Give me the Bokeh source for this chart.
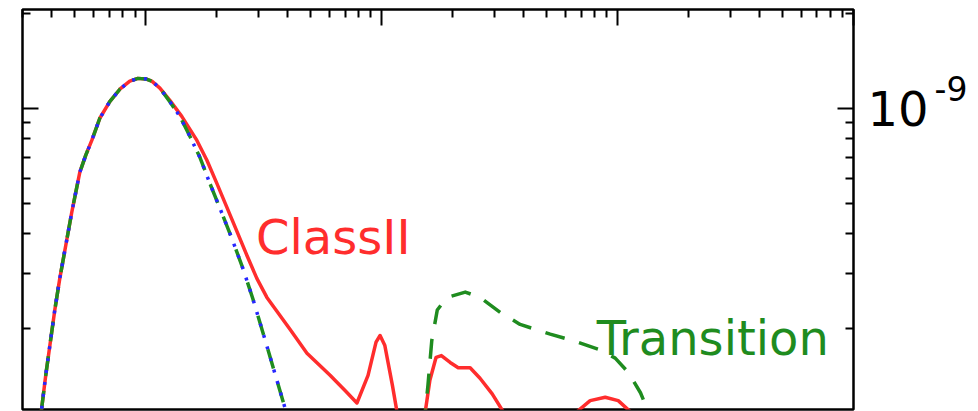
from bokeh.plotting import figure
from bokeh.models import (Range1d, LogAxis, FixedTicker, Label, LogScale,
                          CustomJSTickFormatter)
from bokeh.embed import file_html
from bokeh.resources import INLINE

# ---- data (wavelength in micron, flux) ----
phot_wl = [0.33, 0.362, 0.3764, 0.392, 0.4112, 0.4316, 0.4576, 0.4853, 0.525, 0.5564, 0.590,
           0.638, 0.703, 0.776, 0.855, 0.925, 1.0, 1.06, 1.147, 1.264, 1.394, 1.537, 1.695,
           1.868, 2.06, 2.317, 2.58, 2.84, 3.13, 3.46, 3.81, 4.08, 5.0, 10.0, 100.0, 1000.0]
phot_fl = [6.6e-11, 1.12e-10, 1.42e-10, 1.77e-10, 2.29e-10, 2.88e-10, 3.67e-10, 4.68e-10,
           6.27e-10, 7.1e-10, 7.91e-10, 9.3e-10, 1.05e-9, 1.15e-9, 1.22e-9, 1.245e-9, 1.24e-9,
           1.22e-9, 1.16e-9, 1.05e-9, 9.43e-10, 8.15e-10, 6.99e-10, 5.78e-10, 4.82e-10,
           3.86e-10, 3.1e-10, 2.49e-10, 1.95e-10, 1.51e-10, 1.18e-10, 9.9e-11, 6.0e-11,
           1.2e-11, 1.2e-13, 1.2e-15]

class2_wl = [0.33, 0.362, 0.3764, 0.392, 0.4112, 0.4316, 0.4576, 0.4853, 0.525, 0.5564, 0.590,
             0.638, 0.703, 0.776, 0.855, 0.925, 1.0, 1.06, 1.147, 1.264, 1.42, 1.646, 1.815,
             2.0, 2.317, 2.683, 2.958, 3.26, 3.594, 4.083, 4.82, 6.04, 6.99, 7.85, 8.75, 9.46,
             9.84, 10.3, 11.1, 11.6, 12.6, 14.3, 15.3, 16.0, 17.0, 17.9, 19.5, 21.1, 23.7, 26.1,
             29.4, 32.7, 38.6, 57.1, 67.4, 76.5, 88.6, 100.6, 113.0, 137.0, 1000.0]
class2_fl = [6.6e-11, 1.12e-10, 1.42e-10, 1.77e-10, 2.29e-10, 2.88e-10, 3.67e-10, 4.68e-10,
             6.27e-10, 7.1e-10, 7.91e-10, 9.3e-10, 1.05e-9, 1.15e-9, 1.22e-9, 1.245e-9, 1.24e-9,
             1.22e-9, 1.16e-9, 1.06e-9, 9.43e-10, 7.91e-10, 6.84e-10, 5.78e-10, 4.44e-10,
             3.41e-10, 2.88e-10, 2.51e-10, 2.27e-10, 1.99e-10, 1.67e-10, 1.42e-10, 1.27e-10,
             1.16e-10, 1.42e-10, 1.81e-10, 1.90e-10, 1.77e-10, 1.32e-10, 1.09e-10, 7.6e-11,
             7.6e-11, 1.09e-10, 1.37e-10, 1.62e-10, 1.64e-10, 1.56e-10, 1.50e-10, 1.50e-10,
             1.39e-10, 1.24e-10, 1.09e-10, 7.1e-11, 7.1e-11, 1.09e-10, 1.18e-10, 1.21e-10,
             1.18e-10, 1.09e-10, 6.6e-11, 1e-12]

trans_wl = [0.33, 0.362, 0.3764, 0.392, 0.4112, 0.4316, 0.4576, 0.4853, 0.525, 0.5564, 0.590,
            0.638, 0.703, 0.776, 0.855, 0.925, 1.0, 1.06, 1.147, 1.264, 1.394, 1.537, 1.695,
            1.868, 2.06, 2.317, 2.58, 2.84, 3.13, 3.46, 3.81, 4.08, 6.0, 13.0, 14.8, 15.3, 15.7,
            16.3, 17.2, 18.9, 22.6, 26.1, 31.8, 38.6, 51.8, 66.1, 84.4, 97.7, 111.0, 125.0,
            135.0, 152.0, 1000.0]
trans_fl = [6.6e-11, 1.12e-10, 1.42e-10, 1.77e-10, 2.29e-10, 2.88e-10, 3.67e-10, 4.68e-10,
            6.27e-10, 7.1e-10, 7.91e-10, 9.3e-10, 1.05e-9, 1.15e-9, 1.22e-9, 1.245e-9, 1.24e-9,
            1.22e-9, 1.16e-9, 1.05e-9, 9.43e-10, 8.15e-10, 6.99e-10, 5.78e-10, 4.82e-10,
            3.86e-10, 3.1e-10, 2.49e-10, 1.95e-10, 1.51e-10, 1.18e-10, 9.9e-11, 5e-11, 5e-11,
            8.8e-11, 1.09e-10, 1.32e-10, 1.83e-10, 2.29e-10, 2.51e-10, 2.61e-10, 2.51e-10,
            2.25e-10, 2.06e-10, 1.92e-10, 1.82e-10, 1.71e-10, 1.61e-10, 1.45e-10, 1.25e-10,
            1.09e-10, 7.6e-11, 1e-12]

x_major = [1, 10, 100, 1000]
x_minor = [0.3, 0.4, 0.5, 0.6, 0.7, 0.8, 0.9, 2, 3, 4, 5, 6, 7, 8, 9,
           20, 30, 40, 50, 60, 70, 80, 90, 200, 300, 400, 500, 600, 700, 800, 900]
y_major = [1e-10, 1e-9]
y_minor = [2e-10, 3e-10, 4e-10, 5e-10, 6e-10, 7e-10, 8e-10, 9e-10, 2e-9]
y_tick_base = "10"
y_tick_exp = "-9"

RED = "#ff2d2d"
GREEN = "#1f8c1f"
BLUE = "#2626ff"
FONT = "DejaVu Sans"

Y0, Y1 = 1.106e-10, 2.06e-9
SUP_SHIFT = 0.864  # raises the exponent text like a superscript

p = figure(width=978, height=411, x_axis_type="log", y_axis_type="log",
           x_axis_location="above", y_axis_location="right",
           x_range=Range1d(0.3, 1000), y_range=Range1d(Y0, Y1),
           output_backend="svg", toolbar_location=None,
           min_border_left=22, min_border_right=125, min_border_top=9, min_border_bottom=2)
p.grid.visible = False
p.background_fill_color = "white"
p.border_fill_color = "white"
p.outline_line_color = "black"
p.outline_line_width = 2.5
p.outline_line_alpha = 1.0

left_axis = LogAxis()
p.add_layout(left_axis, "left")

for ax in p.xaxis:
    ax.ticker = FixedTicker(ticks=x_major, minor_ticks=x_minor)
for ax in p.yaxis:
    ax.ticker = FixedTicker(ticks=y_major, minor_ticks=y_minor)

for ax in list(p.xaxis) + list(p.yaxis):
    ax.axis_line_color = None
    ax.major_tick_in = 16
    ax.major_tick_out = 0
    ax.minor_tick_in = 8
    ax.minor_tick_out = 0
    ax.major_tick_line_color = "black"
    ax.minor_tick_line_color = "black"
    ax.major_tick_line_width = 2
    ax.minor_tick_line_width = 2
    ax.major_label_text_font_size = "1px"
    ax.major_label_text_color = None
    ax.major_label_standoff = 0

# right axis: "10" label
right_axis = p.yaxis[0] if p.yaxis[0] in p.right else p.right[0]
right_axis.formatter = CustomJSTickFormatter(code="return '%s';" % y_tick_base)
right_axis.major_label_text_font_size = "48px"
right_axis.major_label_text_font = FONT
right_axis.major_label_text_color = "black"
right_axis.major_label_standoff = 14

# exponent as a second right axis on a slightly shifted range
p.extra_y_ranges = {"sup": Range1d(Y0 * SUP_SHIFT, Y1 * SUP_SHIFT)}
p.extra_y_scales = {"sup": LogScale()}
sup_axis = LogAxis(y_range_name="sup", ticker=FixedTicker(ticks=[1e-9], minor_ticks=[]),
                   formatter=CustomJSTickFormatter(code="return '%s';" % y_tick_exp))
sup_axis.axis_line_color = None
sup_axis.major_tick_line_color = None
sup_axis.minor_tick_line_color = None
sup_axis.major_tick_in = 0
sup_axis.major_tick_out = 0
sup_axis.minor_tick_in = 0
sup_axis.minor_tick_out = 0
sup_axis.major_label_standoff = 3
sup_axis.major_label_text_font = FONT
sup_axis.major_label_text_font_size = "33px"
sup_axis.major_label_text_color = "black"
p.add_layout(sup_axis, "right")

p.line(class2_wl, class2_fl, line_color=RED, line_width=3.5, line_join="round")
p.line(trans_wl, trans_fl, line_color=GREEN, line_width=3.5, line_dash="20 15", line_join="round")
p.line(phot_wl, phot_fl, line_color=BLUE, line_width=3.5, line_dash="3 9", line_join="round")

p.add_layout(Label(x=2.93, y=3.89e-10, text="ClassII", text_color=RED,
                   text_font=FONT, text_font_size="48px", text_baseline="alphabetic"))
p.add_layout(Label(x=81.6, y=1.87e-10, text="Transition", text_color=GREEN,
                   text_font=FONT, text_font_size="48px", text_baseline="alphabetic"))

open("out.html", "w").write(file_html(p, INLINE))
